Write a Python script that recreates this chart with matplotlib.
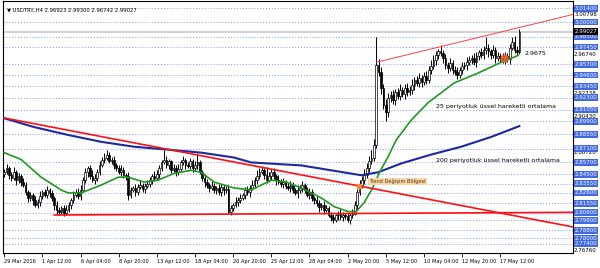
import numpy as np
import matplotlib.pyplot as plt
import matplotlib.transforms as mtransforms

# USDTRY H4 - cours de cloture de chaque barre
first_open = 2.845
closes = [
    2.847, 2.851, 2.844, 2.841, 2.847, 2.839, 2.843,
    2.837, 2.834, 2.827, 2.821, 2.824, 2.819, 2.814,
    2.817, 2.823, 2.827, 2.824, 2.829, 2.826, 2.821,
    2.814, 2.809, 2.807, 2.811, 2.806, 2.809,
    2.814, 2.819, 2.824, 2.827, 2.823, 2.829,
    2.839, 2.847, 2.851, 2.843, 2.839, 2.841, 2.847,
    2.854, 2.860, 2.862, 2.865, 2.858, 2.860,
    2.854, 2.851, 2.847, 2.849, 2.844, 2.843,
    2.824,
    2.829, 2.831, 2.827, 2.832, 2.834, 2.830, 2.833, 2.835,
    2.839, 2.843, 2.841, 2.845,
    2.851, 2.857, 2.860, 2.854, 2.858,
    2.849, 2.851, 2.847, 2.850,
    2.857, 2.860, 2.854,
    2.853, 2.858, 2.851, 2.854, 2.857,
    2.847, 2.841, 2.837, 2.834, 2.831, 2.833,
    2.829, 2.831, 2.827, 2.832, 2.829, 2.830,
    2.807,
    2.811, 2.814, 2.817, 2.819, 2.821,
    2.824, 2.829, 2.827, 2.831,
    2.834, 2.839, 2.843, 2.847, 2.849, 2.844, 2.839, 2.843, 2.847, 2.843, 2.839,
    2.837, 2.835, 2.837, 2.833, 2.831, 2.834, 2.829, 2.826, 2.829, 2.831,
    2.834, 2.829, 2.824, 2.827, 2.821, 2.819,
    2.816, 2.812, 2.814, 2.809, 2.811,
    2.804, 2.801, 2.798,
    2.803, 2.805, 2.801, 2.804,
    2.802, 2.798, 2.803, 2.805,
    2.814, 2.827,
    2.834, 2.839, 2.844,
    2.851, 2.858, 2.862,
    2.875,
    2.956,
    2.949, 2.933, 2.916, 2.908,
    2.923, 2.926, 2.921, 2.929, 2.925, 2.931, 2.927, 2.933, 2.929, 2.931,
    2.936, 2.941, 2.938,
    2.943, 2.939, 2.945, 2.941,
    2.951, 2.955,
    2.961, 2.966, 2.970, 2.968, 2.963,
    2.956, 2.953, 2.958, 2.951,
    2.949, 2.946, 2.951,
    2.955, 2.956, 2.959, 2.961, 2.963, 2.959,
    2.965, 2.969, 2.966, 2.972,
    2.974,
    2.970, 2.966, 2.972, 2.963, 2.965,
    2.963, 2.961, 2.965, 2.962,
    2.974, 2.980, 2.972, 2.96923,
    2.99027,
]

# meches haute / basse en millièmes
up_wick = [
    3, 4, 2, 3, 5, 2, 3, 2, 4, 3, 2, 3, 2, 4, 3, 5, 2, 3, 4, 2,
    3, 2, 4, 3, 2, 3, 5, 3, 2, 4, 3, 4, 5, 3, 4, 2, 3, 6, 4, 3,
    4, 3, 5, 5, 3, 3, 4, 2, 3, 5, 3, 2, 4, 3, 2, 4, 3, 5, 2, 3,
    4, 3, 2, 5, 4, 3, 3, 10, 4, 3, 2, 4, 3, 5, 3, 4, 2, 3, 4, 3,
    4, 10, 3, 2, 4, 3, 2, 5, 3, 2, 4, 3, 2, 3, 4, 3, 2, 5, 3, 4,
    2, 3, 4, 3, 5, 3, 6, 4, 4, 2, 8, 4, 3, 4, 2, 5, 3, 4, 2, 3,
    4, 3, 2, 5, 3, 4, 2, 3, 4, 3, 2, 4, 3, 2, 4, 3, 2, 3, 4, 2,
    3, 5, 3, 2, 4, 3, 5, 4, 3, 5, 4, 6, 5, 6, 8, 6, 29, 6, 5, 4,
    6, 5, 4, 5, 3, 4, 6, 3, 4, 5, 4, 6, 3, 4, 5, 3, 4, 5, 4, 6,
    5, 4, 3, 7, 3, 4, 3, 5, 3, 4, 5, 3, 4, 3, 5, 4, 3, 5, 4, 3,
    5, 4, 11, 4, 3, 5, 3, 4, 3, 5, 4, 3, 4, 5, 6, 4, 3,
]
dn_wick = [
    3, 2, 4, 3, 2, 5, 3, 4, 2, 3, 4, 3, 5, 2, 3, 4, 3, 2, 3, 4,
    3, 5, 4, 3, 2, 4, 3, 2, 4, 3, 2, 3, 4, 2, 3, 5, 3, 2, 4, 3,
    3, 2, 4, 3, 2, 3, 4, 3, 2, 4, 3, 4, 5, 3, 2, 4, 3, 2, 3, 4,
    2, 3, 4, 3, 2, 4, 3, 2, 3, 4, 3, 2, 4, 3, 2, 3, 4, 2, 3, 4,
    3, 4, 2, 3, 5, 3, 4, 2, 3, 4, 3, 4, 5, 3, 2, 4, 3, 2, 4, 3,
    2, 4, 3, 5, 2, 3, 4, 3, 2, 4, 3, 2, 4, 3, 5, 2, 3, 4, 3, 2,
    4, 3, 2, 5, 3, 4, 3, 2, 4, 3, 4, 3, 5, 3, 4, 2, 3, 4, 3, 2,
    5, 3, 4, 3, 2, 4, 3, 2, 4, 3, 3, 4, 3, 4, 3, 4, 3, 4, 6, 5,
    9, 5, 4, 4, 5, 3, 4, 3, 5, 4, 3, 4, 5, 3, 4, 5, 3, 4, 3, 4,
    3, 5, 4, 3, 5, 4, 5, 3, 4, 3, 4, 3, 4, 3, 5, 3, 4, 3, 5, 4,
    3, 4, 5, 6, 4, 3, 5, 3, 4, 3, 4, 3, 5, 3, 4, 3, 2,
]

# moyennes mobiles exponentielles (points relevés)
ema25_x = [0, 7.1, 15.5, 23.9, 26.8, 32.3, 40.7, 47.8, 52, 58.7, 64.6, 71.3, 78.4,
           82.6, 88, 96.4, 103.6, 112, 118.2, 124.5, 132.9, 138.4, 144.2, 147.6,
           150.9, 154.7, 157.2, 161, 164.4, 170.6, 177.8, 188.7, 198.7, 208.4, 215.5]
ema25_y = [2.867, 2.860, 2.842, 2.829, 2.826, 2.826, 2.834, 2.842, 2.842, 2.837, 2.839,
           2.846, 2.849, 2.847, 2.837, 2.831, 2.829, 2.839, 2.837, 2.831, 2.821, 2.812,
           2.807, 2.807, 2.816, 2.832, 2.846, 2.863, 2.880, 2.900, 2.918, 2.938, 2.948,
           2.959, 2.966]
ema200_x = [0, 12.6, 26.8, 40.7, 54.5, 68.8, 82.6, 96.4, 103.6, 124.5, 137.1, 149.7,
            156.8, 166.5, 179, 191.6, 204.2, 216]
ema200_y = [2.902, 2.893, 2.885, 2.878, 2.873, 2.870, 2.867, 2.862, 2.857, 2.854, 2.849,
            2.844, 2.847, 2.856, 2.865, 2.873, 2.883, 2.894]

# lignes de tendance
trend_down = ([0, 239], [2.9023, 2.7911])
support = ([21, 239], [2.8035, 2.8062])
channel_up = ([156, 239], [2.959, 3.008])

# niveaux horizontaux
levels = [3.014, 3.000, 2.985, 2.9745, 2.957, 2.946, 2.9345, 2.923, 2.9105, 2.899,
          2.8855, 2.871, 2.857, 2.845, 2.8355, 2.826, 2.8155, 2.806, 2.798, 2.788,
          2.780, 2.774]
black_labels = [(3.00798, "3.00798"), (2.9674, "2.96740"), (2.92738, "2.92738"),
                (2.9043, "2.90430"), (2.8672, "2.86720"), (2.7676, "2.76760")]
bid = 2.99027

xtick_pos = [0, 16, 32, 48, 64, 80, 96, 112, 128, 144, 160, 176, 192, 208]
xtick_lab = ["29 Mar 2016", "1 Apr 12:00", "6 Apr 04:00", "8 Apr 20:00", "13 Apr 12:00",
             "18 Apr 04:00", "20 Apr 20:00", "25 Apr 12:00", "28 Apr 04:00",
             "2 May 20:00", "5 May 12:00", "10 May 04:00", "12 May 20:00", "17 May 12:00"]

fig = plt.figure(figsize=(6, 2.68), dpi=100)
ax = fig.add_axes([3 / 600, 1 - 253 / 268, 570 / 600, 252 / 268])
ax.set_xlim(-0.5, 238.5)
ax.set_ylim(2.7648, 3.0214)

# niveaux en pointillés
for lv in levels:
    ax.axhline(lv, color='#7d96f0', lw=0.7, ls=(0, (1, 2)), zorder=1)
ax.axhline(bid, color='#c8c8c8', lw=1.2, zorder=1)

# bougies
closes = np.array(closes)
opens = np.concatenate([[first_open], closes[:-1]])
idx = np.arange(len(closes))
highs = np.maximum(opens, closes) + np.array(up_wick) * 0.001
lows = np.minimum(opens, closes) - np.array(dn_wick) * 0.001
ax.vlines(idx, lows, highs, color='black', lw=0.7, zorder=3)
haut = closes >= opens
ax.bar(idx[haut], (closes - opens)[haut], bottom=opens[haut], width=0.7,
       color='white', edgecolor='black', lw=0.5, zorder=4)
ax.bar(idx[~haut], (opens - closes)[~haut], bottom=closes[~haut], width=0.7,
       color='black', edgecolor='black', lw=0.5, zorder=4)

# moyennes
ax.plot(ema200_x, ema200_y, color='#1c2a9c', lw=1.5, zorder=5)
ax.plot(ema25_x, ema25_y, color='#1f9a1f', lw=1.2, zorder=5)

# tendances
ax.plot(*trend_down, color='#ff1010', lw=1.2, zorder=5)
ax.plot(*support, color='#ff1010', lw=1.2, zorder=5)
ax.plot(*channel_up, color='#ff4040', lw=0.7, zorder=5)

# annotations
ax.plot(148.8, 2.833, marker='s', ms=3.5, color='#f08a30', zorder=6)
ax.text(153, 2.8376, "Trend Değişim Bölgesi", fontsize=3.7, color='#5a3010', va='center',
        bbox=dict(boxstyle='square,pad=0.2', fc='#f7d7a8', ec='none'), zorder=6)
ax.plot(209.6, 2.963, marker='o', ms=5, color='#e8602a', alpha=0.85, zorder=6)
ax.text(218, 2.968, "2.9675", fontsize=4.5, va='center', zorder=6)
ax.text(181, 2.914, "25 periyotluk üssel hareketli ortalama", fontsize=4.5,
        va='center', zorder=6)
ax.text(181, 2.859, "200 periyotluk üssel hareketli ortalama", fontsize=4.5,
        va='center', zorder=6)
ax.text(1, 3.0125, "▼ USDTRY.,H4 2.96923 2.99300 2.96742 2.99027", fontsize=3.8,
        va='center', zorder=6)

# étiquettes de prix à droite
trans = mtransforms.blended_transform_factory(ax.transAxes, ax.transData)
for lv, lab in black_labels:
    ax.text(1.002, lv, lab, transform=trans, fontsize=4, color='black',
            va='center', ha='left', clip_on=False, zorder=7)
for lv in levels:
    ax.text(1.003, lv, f"{lv:.5f}", transform=trans, fontsize=4, color='white',
            va='center', ha='left', clip_on=False, zorder=8,
            bbox=dict(boxstyle='square,pad=0.15', fc='#4169e1', ec='none'))
ax.text(1.003, bid, "2.99027", transform=trans, fontsize=4, color='white',
        va='center', ha='left', clip_on=False, zorder=9,
        bbox=dict(boxstyle='square,pad=0.15', fc='black', ec='none'))

ax.set_yticks([])
ax.set_xticks(xtick_pos)
ax.set_xticklabels(xtick_lab, fontsize=3.6, ha='left')
ax.tick_params(axis='x', direction='out', length=3, width=0.6, pad=1)
for s in ax.spines.values():
    s.set_linewidth(0.8)

plt.savefig("out.png", dpi=100)
plt.close()
